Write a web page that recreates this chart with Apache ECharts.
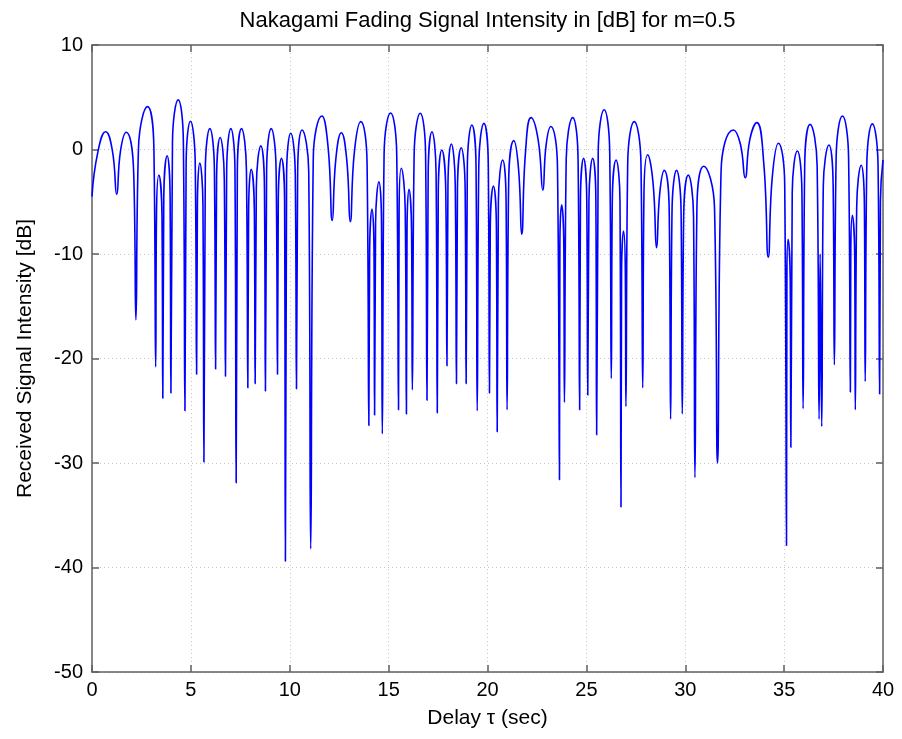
<!DOCTYPE html>
<html>
<head>
<meta charset="utf-8">
<script src="https://cdn.jsdelivr.net/npm/echarts@6/dist/echarts.min.js"></script>
<style>
  html, body { margin: 0; padding: 0; background: #fff; }
  #chart { width: 902px; height: 739px; }
</style>
</head>
<body>
<div id="chart"></div>
<script>
// Nakagami (m = 0.5) fading trace: delay in seconds and received intensity in dB,
// listed in order along the curve (lobe shoulders, peaks and fade nulls).
const delaySec = [
  0, 0.3, 0.69, 1.03, 1.25, 1.44, 1.73, 2.11, 2.22,
  2.35, 2.81, 3.13, 3.22,
  3.26, 3.38, 3.54, 3.58,
  3.63, 3.8, 3.95, 3.99,
  4.07, 4.36, 4.62, 4.70,
  4.76, 4.98, 5.22, 5.29,
  5.33, 5.45, 5.61, 5.66,
  5.73, 5.96, 6.19, 6.25,
  6.30, 6.48, 6.69, 6.75,
  6.81, 7.02, 7.23, 7.29,
  7.35, 7.56, 7.81, 7.88,
  7.92, 8.05, 8.21, 8.25,
  8.31, 8.54, 8.72, 8.77,
  8.83, 9.06, 9.31, 9.38,
  9.42, 9.58, 9.74, 9.78,
  9.84, 10.05, 10.28, 10.34,
  10.40, 10.62, 10.96, 11.06,
  11.19, 11.63, 11.94, 12.15,
  12.33, 12.61, 12.88, 13.06,
  13.27, 13.59, 13.91, 14.0,
  14.04, 14.16, 14.26, 14.29,
  14.34, 14.51, 14.64, 14.68,
  14.77, 15.1, 15.41, 15.5,
  15.53, 15.64, 15.84, 15.9,
  15.93, 16.03, 16.16, 16.2,
  16.29, 16.6, 16.87, 16.94,
  17.0, 17.19, 17.40, 17.46,
  17.51, 17.69, 17.89, 17.95,
  18.0, 18.17, 18.37, 18.43,
  18.48, 18.67, 18.87, 18.92,
  18.98, 19.21, 19.42, 19.48,
  19.56, 19.82, 20.04, 20.1,
  20.14, 20.3, 20.45, 20.49,
  20.55, 20.77, 20.94, 20.99,
  21.07, 21.33, 21.57, 21.73,
  21.92, 22.2, 22.56, 22.8,
  22.96, 23.2, 23.54, 23.64,
  23.66, 23.75, 23.86, 23.89,
  23.98, 24.31, 24.58, 24.66,
  24.70, 24.86, 25.02, 25.07,
  25.13, 25.32, 25.48, 25.52,
  25.60, 25.9, 26.18, 26.26,
  26.31, 26.5, 26.70, 26.75,
  26.78, 26.88, 26.97, 27.0,
  27.09, 27.42, 27.76, 27.85,
  27.91, 28.1, 28.37, 28.55,
  28.71, 28.94, 29.19, 29.26,
  29.33, 29.56, 29.79, 29.85,
  29.92, 30.15, 30.42, 30.49,
  30.59, 30.93, 31.48, 31.63,
  31.81, 32.44, 32.79, 33.03,
  33.27, 33.62, 33.97, 34.2,
  34.40, 34.71, 35.03, 35.12,
  35.14, 35.2, 35.31, 35.34,
  35.41, 35.67, 35.90, 35.96,
  36.04, 36.31, 36.67, 36.77,
  36.82, 36.9,
  36.98, 37.27, 37.48, 37.54,
  37.63, 37.95, 38.26, 38.35,
  38.37, 38.45, 38.57, 38.6,
  38.67, 38.9, 39.06, 39.1,
  39.18, 39.46, 39.75, 39.83,
  39.87, 40
];

const intensityDb = [
  -4.5, -0.2, 1.7, -0.1, -4.3, -0.15, 1.65, -2.35, -16.3,
  0.1, 4.1, 0.1, -20.8,
  -6.45, -2.45, -6.45, -23.8,
  -4.6, -0.6, -4.6, -23.3,
  0.75, 4.75, 0.75, -25.0,
  -1.3, 2.7, -1.3, -21.5,
  -5.3, -1.3, -5.3, -29.9,
  -2.0, 2.0, -2.0, -21.0,
  -2.85, 1.15, -2.85, -21.7,
  -2.0, 2.0, -2.0, -31.9,
  -2.0, 2.0, -2.0, -22.8,
  -5.9, -1.9, -5.9, -22.4,
  -3.65, 0.35, -3.65, -23.1,
  -2.0, 2.0, -2.0, -21.5,
  -4.85, -0.85, -4.85, -39.4,
  -2.45, 1.55, -2.45, -22.9,
  -2.13, 1.87, -2.13, -38.2,
  -0.8, 3.2, 0.2, -6.8,
  -0.92, 1.6, -0.95, -6.9,
  -0.2, 2.67, -1.33, -26.4,
  -9.7, -5.7, -9.7, -25.4,
  -7.1, -3.1, -7.1, -27.2,
  -0.5, 3.5, -0.5, -24.9,
  -5.8, -1.8, -5.8, -25.3,
  -7.8, -3.8, -7.8, -23.0,
  -0.53, 3.47, -0.53, -24.0,
  -2.3, 1.7, -2.3, -25.2,
  -4.05, -0.05, -4.05, -20.7,
  -3.47, 0.53, -3.47, -22.4,
  -3.83, 0.17, -3.83, -22.4,
  -1.65, 2.35, -1.65, -25.0,
  -1.5, 2.5, -1.5, -23.3,
  -7.5, -3.5, -7.5, -27.0,
  -5.0, -1.0, -5.0, -24.9,
  -3.15, 0.85, -1.85, -8.1,
  -0.3, 3.05, 0.95, -3.9,
  0.37, 2.2, -1.8, -31.6,
  -9.3, -5.3, -9.3, -24.2,
  -0.95, 3.05, -0.95, -24.9,
  -4.85, -0.85, -4.85, -23.5,
  -4.85, -0.85, -4.85, -27.3,
  -0.2, 3.8, -0.2, -21.9,
  -5.0, -1.0, -5.0, -34.2,
  -11.8, -7.8, -11.8, -24.6,
  -1.33, 2.67, -1.33, -22.8,
  -4.5, -0.5, -3.17, -9.4,
  -4.2, -2.0, -6.0, -25.8,
  -6.0, -2.0, -6.0, -25.3,
  -6.45, -2.45, -6.45, -31.4,
  -5.6, -1.6, -5.6, -30.0,
  -2.13, 1.87, 0.5, -2.7,
  1.0, 2.57, -1.3, -10.3,
  -2.67, 0.6, -3.4, -37.9,
  -12.6, -8.6, -12.6, -28.5,
  -4.15, -0.15, -4.15, -24.8,
  -1.6, 2.4, -1.6, -25.8,
  -10.0, -26.5,
  -3.57, 0.43, -3.57, -20.6,
  -0.8, 3.2, -0.8, -23.2,
  -10.3, -6.3, -10.3, -24.9,
  -5.5, -1.5, -5.5, -22.2,
  -1.55, 2.45, -1.55, -23.4,
  -5.0, -1.0
];

// Axis ranges and tick spacing
const xRange = [0, 40];
const xStep = 5;
const yRange = [-50, 10];
const yStep = 10;

const titleText = 'Nakagami Fading Signal Intensity in [dB] for m=0.5';
const xName = 'Delay \u03c4 (sec)';
const yName = 'Received Signal Intensity [dB]';

const FONT = '"Liberation Sans", Arial, sans-serif';
const frameColor = '#606060';
const gridBox = { left: 92, top: 45, width: 791, height: 627 };

const chart = echarts.init(document.getElementById('chart'), null, { renderer: 'canvas' });

const frameAxis = {
  axisLine: { show: true, onZero: false, lineStyle: { color: frameColor, width: 1.5 } },
  axisTick: { show: true, inside: true, length: 7, lineStyle: { color: frameColor, width: 1.5 } },
};
const dottedGrid = { show: true, lineStyle: { color: '#c4c4c4', width: 1, type: [1, 3] } };

const option = {
  animation: false,
  backgroundColor: '#ffffff',
  // Title centred over the plotting box
  graphic: [{
    type: 'text',
    x: gridBox.left + gridBox.width / 2,
    y: 21,
    style: {
      text: titleText,
      textAlign: 'center',
      textVerticalAlign: 'middle',
      verticalAlign: 'middle',
      fill: '#000',
      font: '22px ' + FONT
    }
  }],
  grid: Object.assign({ containLabel: false }, gridBox),
  xAxis: [
    Object.assign({
      type: 'value', position: 'bottom',
      min: xRange[0], max: xRange[1], interval: xStep,
      name: xName, nameLocation: 'middle', nameGap: 36,
      nameTextStyle: { fontFamily: FONT, fontSize: 21, color: '#000' },
      axisLabel: { fontFamily: FONT, fontSize: 20, color: '#000', margin: 8 },
      splitLine: dottedGrid
    }, frameAxis),
    Object.assign({
      type: 'value', position: 'top',
      min: xRange[0], max: xRange[1], interval: xStep,
      axisLabel: { show: false }, splitLine: { show: false }
    }, frameAxis)
  ],
  yAxis: [
    Object.assign({
      type: 'value', position: 'left',
      min: yRange[0], max: yRange[1], interval: yStep,
      name: yName, nameLocation: 'middle', nameGap: 56, nameRotate: 90,
      nameTextStyle: { fontFamily: FONT, fontSize: 21, color: '#000' },
      axisLabel: { fontFamily: FONT, fontSize: 20, color: '#000', margin: 9 },
      splitLine: dottedGrid
    }, frameAxis),
    Object.assign({
      type: 'value', position: 'right',
      min: yRange[0], max: yRange[1], interval: yStep,
      axisLabel: { show: false }, splitLine: { show: false }
    }, frameAxis)
  ],
  series: [{
    type: 'line',
    xAxisIndex: 0,
    yAxisIndex: 0,
    data: delaySec.map((t, i) => [t, intensityDb[i]]),
    showSymbol: false,
    smooth: 0.5,
    sampling: null,
    clip: true,
    lineStyle: { color: '#0000ff', width: 1.6 }
  }]
};

chart.setOption(option);
</script>
</body>
</html>
